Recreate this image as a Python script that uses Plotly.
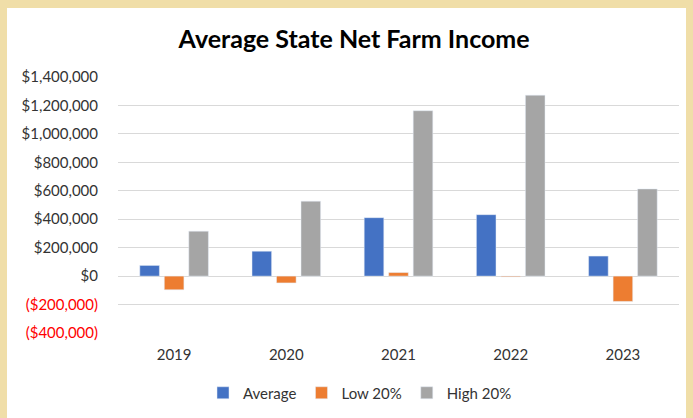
import plotly.graph_objects as go

years = ["2019", "2020", "2021", "2022", "2023"]
average = [75000, 175000, 411000, 432000, 141000]
low20 = [-96000, -48000, 25000, -5000, -178000]
high20 = [316000, 527000, 1163000, 1272000, 613000]

tick_vals = [-400000, -200000, 0, 200000, 400000, 600000, 800000, 1000000, 1200000, 1400000]
tick_text = ["<span style='color:#ff0000'>($400,000)</span>",
             "<span style='color:#ff0000'>($200,000)</span>",
             "$0", "$200,000", "$400,000", "$600,000", "$800,000",
             "$1,000,000", "$1,200,000", "$1,400,000"]

FONT = "Lato, 'Open Sans', sans-serif"

fig = go.Figure()
fig.add_trace(go.Bar(name="Average", x=years, y=average, marker_color="#4472c4"))
fig.add_trace(go.Bar(name="Low 20%", x=years, y=low20, marker_color="#ed7d31"))
fig.add_trace(go.Bar(name="High 20%", x=years, y=high20, marker_color="#a5a5a5"))

W, H = 693, 418
ml, mr, mt, mb = 118, 14, 77, 85
pw, ph = W - ml - mr, H - mt - mb

fig.add_shape(type="rect", xref="paper", yref="paper",
              x0=(7 - ml) / pw, x1=(686 - ml) / pw,
              y0=-(mb + 5) / ph, y1=(H - mb - 8) / ph,
              fillcolor="white", line_width=0, layer="below")

fig.update_layout(
    width=W, height=H,
    margin=dict(l=ml, r=mr, t=mt, b=mb, autoexpand=False),
    paper_bgcolor="#f0dea8",
    plot_bgcolor="rgba(0,0,0,0)",
    barmode="group", bargap=0.345, bargroupgap=0.2,
    font=dict(family=FONT, size=15, color="#333333"),
    title=dict(text="<b>Average State Net Farm Income</b>", x=0.511, xanchor="center",
               y=1 - 39 / H, yanchor="middle", font=dict(family=FONT, size=25, color="#000000")),
    legend=dict(orientation="h", xref="container", x=360 / W, xanchor="center",
                yref="container", y=1 - 393 / H, yanchor="middle",
                font=dict(size=15, color="#333333"), itemwidth=30, tracegroupgap=0,
                bgcolor="rgba(0,0,0,0)"),
    showlegend=True,
)
fig.update_yaxes(range=[-400000, 1400000], tickvals=tick_vals, ticktext=tick_text,
                 showgrid=True, gridcolor="#d9d9d9", gridwidth=1,
                 zeroline=True, zerolinecolor="#d9d9d9", zerolinewidth=1,
                 showline=False, ticks="", ticklabelstandoff=19, automargin=False)
fig.update_xaxes(showgrid=False, showline=False, ticks="", automargin=False,
                 tickfont=dict(size=15, color="#333333"), ticklabelstandoff=11)

fig.write_html("out.html", config={"displayModeBar": False},
               post_script="document.body.style.margin='0';document.body.style.overflow='hidden';")
